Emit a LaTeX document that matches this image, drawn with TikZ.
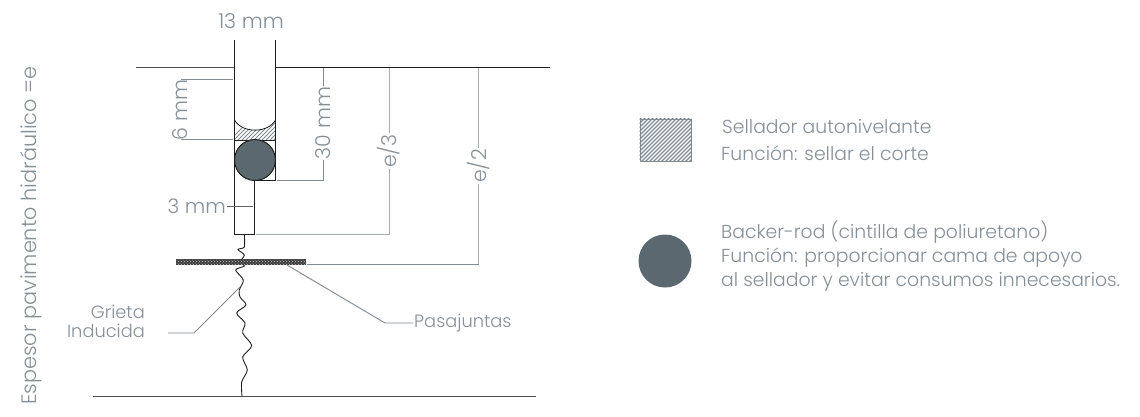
\documentclass[tikz,border=0pt]{standalone}
\usepackage{fontspec}
\setmainfont{Poppins}[UprightFont=* Light]
\usetikzlibrary{patterns}
\definecolor{txtc}{HTML}{858F98}
\definecolor{dimc}{HTML}{7F8A92}
\definecolor{disc}{HTML}{5B6870}
\definecolor{linec}{HTML}{1E1E1E}
\tikzset{
  x=1pt,y=-1pt,
  wall/.style={draw=linec,line width=1pt},
  dimline/.style={draw=dimc,line width=0.9pt},
  dimtext/.style={text=txtc,font=\fontsize{20.5}{20.5}\selectfont,inner sep=1pt},
  lbl/.style={text=txtc,inner sep=0pt,anchor=west},
  leader/.style={text=txtc,font=\fontsize{17.8}{19}\selectfont,inner sep=1pt},
  hatchlines/.style={draw=dimc,line width=0.9pt},
  lowtext/.style={font=\fontsize{18.8}{20}\selectfont},
}
\begin{document}
\begin{tikzpicture}
\useasboundingbox (0,0) rectangle (1140,416);
% surface lines
\draw[draw=linec!80,line width=1pt] (136,67) -- (234.5,67);
\draw[wall] (275.5,67) -- (550,67);
\draw[draw=linec!80,line width=1pt] (93,396) -- (536,396);
% sealant hatch
\begin{scope}
\clip (234.5,120) .. controls (242,133.5) and (268,133.5) .. (275.5,120) -- (275.5,140) -- (234.5,140) -- cycle;
\foreach \k in {0,4,...,72}{\draw[hatchlines] (225+\k,145) -- (225+\k+30,115);}
\end{scope}
\draw[draw=linec,line width=0.8pt] (234.5,120) .. controls (242,133.5) and (268,133.5) .. (275.5,120);
% slot
\draw[wall] (234.5,40) -- (234.5,234.5) -- (254.5,234.5) -- (254.5,180);
\draw[wall] (275.5,40) -- (275.5,180) -- (254.5,180);
\draw[wall] (234.5,140) -- (275.5,140);
\node[circle,draw=linec,line width=1pt,fill=disc,minimum size=41pt,inner sep=0pt] (rod) at (255,160) {};
% crack
\draw[draw=linec,line width=0.9pt,smooth] plot coordinates {(244.3,235) (244.3,247) (238,249.5) (244.3,255) (240,262) (244.3,266) (235.7,270) (243.3,280) (239.3,290) (240,297) (246,305) (236.7,313) (245,323) (242.7,333) (251.7,345.7) (242.7,357) (247.3,370) (241.7,382) (242,396)};
% plate
\fill[fill=linec!85] (176,259) rectangle (306,264.5);
\fill[pattern=crosshatch dots,pattern color=white!75!black] (176,259) rectangle (306,264.5);
\coordinate (plateR) at (307,264);
\coordinate (plateLead) at (287,265);
% dimensions
\node[dimtext] (d13) at (251,21) {13 mm};
\node[dimtext] (d6) at (180,110) [rotate=90] {6 mm};
\draw[dimline] (181,79.5) -- (233,79.5);
\draw[dimline] (181,139.5) -- (233,139.5);
\node[dimtext] (d30) at (323,123) [rotate=90] {30 mm};
\coordinate (t30) at (323,68);
\coordinate (b30) at (323,180);
\draw[dimline] (t30) -- (d30.east);
\draw[dimline] (d30.west) -- (b30) -- (277,180);
\node[dimtext] (e3) at (389,151) [rotate=90] {e/3};
\coordinate (t3) at (389,68);
\coordinate (b3) at (389,234);
\draw[dimline,draw=dimc!70] (t3) -- (e3.east);
\draw[dimline,draw=dimc!70] (e3.west) -- (b3) -- (256,234);
\node[dimtext] (e2) at (478.7,166) [rotate=90] {e/2};
\coordinate (t2) at (478.7,68);
\coordinate (b2) at (478.7,264);
\draw[dimline,draw=dimc!70] (t2) -- (e2.east);
\draw[dimline,draw=dimc!70] (e2.west) -- (b2);
\draw[dimline] (plateR) -- (b2);
\node[dimtext,anchor=east,font=\fontsize{20}{20}\selectfont] (d3) at (227,206) {3 mm};
\draw[draw=linec!70,line width=0.8pt] (d3.east) -- (253,206);
% leaders
\node[leader,anchor=west] (pas) at (413,323) {Pasajuntas};
\draw[dimline] (plateLead) -- (385,323) -- (pas.west);
\node[leader,align=right,anchor=east,font=\fontsize{17.8}{19}\selectfont] (gri) at (146,321.5) {Grieta\\Inducida};
\coordinate (griA) at (240,287);
\draw[dimline] (griA) -- (194,333) -- (168,333);
% side label
\node[text=txtc,font=\fontsize{20.8}{20.8}\selectfont,rotate=90,inner sep=0pt] (esp) at (31,235.5) {Espesor pavimento hidráulico =e};
% legend
\node[draw=dimc,line width=1pt,minimum width=51pt,minimum height=42pt,inner sep=0pt] (k1) at (665.5,140) {};
\begin{scope}
\clip (k1.north west) rectangle (k1.south east);
\foreach \k in {0,4,...,108}{\draw[hatchlines,line width=1.3pt] (590+\k,165) -- (590+\k+50,115);}
\end{scope}
\node[circle,fill=disc,minimum size=53pt,inner sep=0pt] (k2) at (665,261) {};
\node[lbl,lowtext] (a1) at (722,127) {Sellador autonivelante};
\node[lbl,lowtext] (a2) at (721,153) {Función: sellar el corte};
\node[lbl,lowtext] (b1) at (721,232) {Backer-rod (cintilla de poliuretano)};
\node[lbl,lowtext] (b2t) at (721,258) {Función: proporcionar cama de apoyo};
\node[lbl,lowtext] (b3t) at (721,282) {al sellador y evitar consumos innecesarios.};
\end{tikzpicture}
\end{document}
